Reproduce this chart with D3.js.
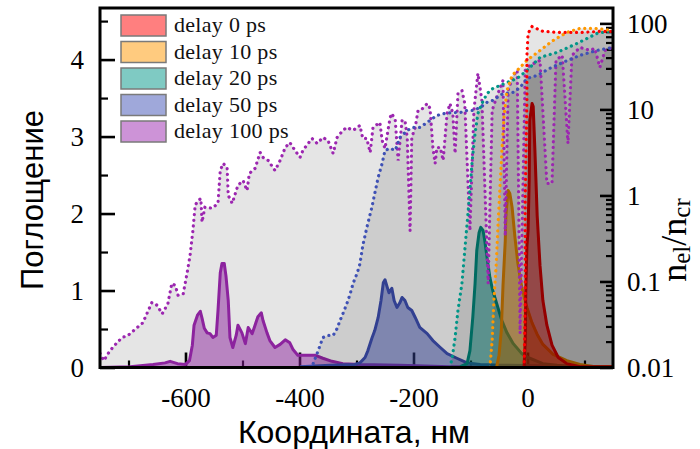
<!DOCTYPE html>
<html>
<head>
<meta charset="utf-8">
<script src="https://cdn.jsdelivr.net/npm/d3@7"></script>
<style>
  body { margin: 0; background: #fff; }
  svg { display: block; }
</style>
</head>
<body>
<div id="chart"></div>
<script>
// legend / series
var delays = ["delay 0 ps", "delay 10 ps", "delay 20 ps", "delay 50 ps", "delay 100 ps"];
var colors = ["#ff0000", "#ff9800", "#009688", "#3f51b5", "#9c27b0"];

// absorption profiles, [coordinate nm, absorption]
var absorb0 = [[-6,0.01],[-4,0.35],[-3,1.0],[-1,1.58],[1,1.78],[3,2.43],[4,3.21],[8,3.43],[10,3.39],[13,2.82],[17,1.97],[22,1.32],[27,0.87],[34,0.55],[43,0.29],[54,0.13],[69,0.05],[92,0.01],[150,0.01]];
var absorb10 = [[-54,0.01],[-50,0.16],[-46,0.48],[-43,1.06],[-39,1.65],[-38,1.97],[-34,2.30],[-31,2.26],[-27,2.08],[-22,1.69],[-17,1.36],[-10,1.04],[-1,0.78],[8,0.58],[17,0.43],[27,0.30],[45,0.17],[69,0.09],[92,0.04],[118,0.01],[150,0.01]];
var absorb20 = [[-118,0.01],[-106,0.05],[-101,0.22],[-96,0.65],[-92,1.09],[-89,1.52],[-85,1.75],[-82,1.82],[-78,1.78],[-75,1.65],[-71,1.43],[-66,1.17],[-61,1.00],[-54,0.83],[-45,0.61],[-36,0.45],[-25,0.31],[-10,0.18],[4,0.12],[27,0.05],[52,0.03],[92,0.01],[150,0.01]];
var absorb50 = [[-399,0.01],[-346,0.03],[-303,0.04],[-294,0.06],[-285,0.13],[-280,0.22],[-273,0.38],[-268,0.48],[-262,0.65],[-257,0.87],[-253,1.10],[-250,1.14],[-246,1.04],[-243,0.97],[-238,1.03],[-234,0.87],[-229,0.78],[-224,0.84],[-220,0.91],[-215,0.87],[-210,0.78],[-203,0.74],[-197,0.65],[-189,0.52],[-176,0.44],[-166,0.35],[-153,0.26],[-141,0.18],[-124,0.12],[-106,0.06],[-83,0.04],[-48,0.03],[150,0.01]];
var absorb100 = [[-750,0],[-697,0.01],[-657,0.04],[-636,0.06],[-627,0.08],[-614,0.05],[-600,0.04],[-593,0.09],[-588,0.29],[-585,0.55],[-579,0.68],[-574,0.73],[-571,0.64],[-567,0.51],[-562,0.45],[-557,0.44],[-552,0.39],[-546,0.42],[-543,0.74],[-539,1.23],[-536,1.35],[-532,1.35],[-529,1.19],[-525,0.87],[-522,0.39],[-517,0.26],[-511,0.42],[-508,0.55],[-501,0.45],[-495,0.31],[-490,0.52],[-483,0.44],[-478,0.55],[-473,0.66],[-467,0.71],[-464,0.61],[-457,0.45],[-452,0.35],[-443,0.26],[-434,0.30],[-425,0.36],[-417,0.32],[-411,0.23],[-403,0.16],[-390,0.16],[-373,0.16],[-359,0.12],[-343,0.08],[-324,0.05],[-294,0.04],[-224,0.03],[-136,0.01],[150,0.01]];

// electron density profiles, [coordinate nm, nel/ncr]
var density0 = [[-6,0.01],[-4,0.060],[-4,0.87],[-1,12.7],[-1,42.5],[1,76.5],[8,92],[27,80.7],[57,78.5],[92,78.5],[127,80.7],[150,80.7]];
var density10 = [[-66,0.01],[-62,0.0206],[-59,0.060],[-55,0.153],[-52,0.42],[-48,1.38],[-45,3.34],[-41,8.51],[-36,16.6],[-27,24.8],[-13,30.8],[-1,37.2],[22,48.5],[45,63.4],[69,78.5],[92,87.5],[118,87.5],[150,82.9]];
var density20 = [[-136,0.01],[-132,0.0131],[-127,0.0223],[-122,0.046],[-115,0.095],[-110,0.23],[-106,0.47],[-101,1.14],[-97,2.55],[-92,5.26],[-87,8.98],[-80,11.7],[-71,15.3],[-61,17.5],[-48,19.0],[-36,20.6],[-18,22.9],[-1,28.4],[22,40.3],[52,46],[87,58.5],[122,76.5],[150,82.9]];
var density50 = [[-376,0.0111],[-369,0.0146],[-364,0.018],[-359,0.0223],[-350,0.0236],[-341,0.0236],[-334,0.0284],[-329,0.035],[-324,0.042],[-317,0.055],[-311,0.072],[-306,0.095],[-299,0.124],[-294,0.16],[-289,0.26],[-282,0.42],[-273,0.73],[-268,1.05],[-262,1.62],[-255,2.36],[-250,3.34],[-241,3.52],[-232,3.34],[-224,4.72],[-211,5.70],[-201,6.18],[-189,6.18],[-176,7.06],[-159,8.51],[-145,8.98],[-131,9.2],[-118,9.2],[-106,9.73],[-96,9.73],[-83,10.5],[-71,12.1],[-61,12.7],[-43,15.3],[-25,15.8],[-13,18.0],[-1,22.9],[17,24.8],[39,30],[62,35.2],[92,42.5],[122,48.5],[150,52.6]];
var density100 = [[-750,0.0146],[-743,0.012],[-738,0.0138],[-732,0.0158],[-720,0.0195],[-711,0.0223],[-701,0.0236],[-685,0.029],[-675,0.033],[-659,0.057],[-650,0.053],[-641,0.042],[-631,0.055],[-624,0.095],[-618,0.090],[-613,0.069],[-604,0.072],[-597,0.127],[-592,0.20],[-587,0.39],[-583,0.77],[-578,0.87],[-573,0.92],[-571,0.49],[-566,0.73],[-553,0.71],[-543,0.81],[-539,1.95],[-534,2.36],[-527,2.12],[-525,1.0],[-518,0.81],[-508,1.31],[-499,1.49],[-492,1.14],[-488,1.80],[-478,2.06],[-469,3.16],[-464,2.77],[-455,2.55],[-443,1.95],[-434,2.55],[-425,3.61],[-417,4.13],[-408,3.34],[-399,2.77],[-394,3.34],[-378,4.60],[-369,4.02],[-359,4.72],[-350,4.36],[-341,3.08],[-334,4.72],[-324,5.70],[-317,6.18],[-306,5.70],[-294,6.52],[-289,4.60],[-282,4.60],[-276,3.16],[-271,6.18],[-259,7.06],[-255,4.36],[-250,3.52],[-241,8.07],[-238,8.98],[-232,7.45],[-227,2.55],[-220,7.45],[-215,7.45],[-211,4.72],[-206,0.39],[-203,4.72],[-197,6.18],[-192,9.73],[-183,10.3],[-176,11.7],[-171,10.3],[-166,3.61],[-162,2.36],[-159,3.61],[-153,3.61],[-148,2.55],[-141,8.98],[-136,11.7],[-131,8.98],[-127,3.08],[-122,15.3],[-115,16.6],[-110,11.7],[-101,0.39],[-94,9.73],[-87,26.2],[-80,12.7],[-69,0.095],[-62,9.73],[-53,14.6],[-43,21.7],[-39,0.34],[-34,16.6],[-25,24.8],[-18,28.4],[-13,0.025],[-4,28.4],[4,32.5],[22,37.2],[34,1.38],[43,1.38],[50,37.2],[61,42.5],[71,4.02],[78,42.5],[92,52.6],[110,48.5],[118,51.2],[127,30.8],[136,48.5],[150,52.6]];

// ticks
var xMajor = [-600, -400, -200, 0];
var xMinor = [-700, -500, -300, -100, 100];
var yMajor = [0, 1, 2, 3, 4];
var yMinor = [0.5, 1.5, 2.5, 3.5, 4.5];
var rMajor = [0.01, 0.1, 1, 10, 100];
var rLabels = ["0.01", "0.1", "1", "10", "100"];

var absorbs = [absorb0, absorb10, absorb20, absorb50, absorb100];
var densities = [density0, density10, density20, density50, density100];

var width = 700, height = 449;
var pLeft = 100, pRight = 613, pTop = 8, pBottom = 367.5;

var svg = d3.select("#chart").append("svg").attr("width", width).attr("height", height);

var x = d3.scaleLinear().domain([-750, 150]).range([pLeft, pRight]);
var yL = d3.scaleLinear().domain([0, 4.67]).range([pBottom, pTop]);
var yR = d3.scaleLog().domain([0.01, 151]).range([pBottom, pTop]);

svg.append("clipPath").attr("id", "plotclip").append("rect")
  .attr("x", pLeft).attr("y", pTop).attr("width", pRight - pLeft).attr("height", pBottom - pTop);

var serif = "'Liberation Serif', 'Times New Roman', serif";

function styleAxis(g, len) {
  g.select(".domain").remove();
  g.selectAll(".tick line").attr("stroke", "#000").attr("stroke-width", len > 10 ? 2.6 : 2.2);
  g.selectAll(".tick text").attr("font-family", serif).attr("font-size", 27).attr("fill", "#000");
}

// ticks first, the fills are drawn over them
var axL = svg.append("g").attr("transform", "translate(" + pLeft + ",0)")
  .call(d3.axisLeft(yL).tickValues(yMajor).tickSize(-15).tickPadding(16).tickFormat(function(d) { return String(d); }));
styleAxis(axL, 15);
var axLm = svg.append("g").attr("transform", "translate(" + pLeft + ",0)")
  .call(d3.axisLeft(yL).tickValues(yMinor).tickSize(-8).tickFormat(""));
styleAxis(axLm, 8);

var axB = svg.append("g").attr("transform", "translate(0," + pBottom + ")")
  .call(d3.axisBottom(x).tickValues(xMajor).tickSize(-15).tickPadding(20).tickFormat(function(d) { return String(d); }));
styleAxis(axB, 15);
var axBm = svg.append("g").attr("transform", "translate(0," + pBottom + ")")
  .call(d3.axisBottom(x).tickValues(xMinor).tickSize(-7).tickFormat(""));
styleAxis(axBm, 7);

var rMinor = yR.ticks().filter(function(v) { return rMajor.indexOf(v) < 0; });
var axR = svg.append("g").attr("transform", "translate(" + pRight + ",0)")
  .call(d3.axisRight(yR).tickValues(rMajor).tickSize(-13).tickPadding(14).tickFormat(function(d, i) { return rLabels[i]; }));
styleAxis(axR, 13);
var axRm = svg.append("g").attr("transform", "translate(" + pRight + ",0)")
  .call(d3.axisRight(yR).tickValues(rMinor).tickSize(-7).tickFormat(""));
styleAxis(axRm, 7);

var plot = svg.append("g").attr("clip-path", "url(#plotclip)");

// absorption: coloured fill + solid line
var absArea = d3.area().x(function(d) { return x(d[0]); }).y0(yL(0)).y1(function(d) { return yL(d[1]); });
var absLine = d3.line().x(function(d) { return x(d[0]); }).y(function(d) { return yL(d[1]); });
for (var i = 4; i >= 0; i--) {
  plot.append("path").attr("d", absArea(absorbs[i]))
    .attr("fill", colors[i]).attr("fill-opacity", 0.5);
  plot.append("path").attr("d", absLine(absorbs[i]))
    .attr("fill", "none").attr("stroke", colors[i]).attr("stroke-width", 3)
    .attr("stroke-linejoin", "round");
}

// density: grey shade under each profile
var denArea = d3.area().x(function(d) { return x(d[0]); }).y0(pBottom).y1(function(d) { return yR(d[1]); });
var denLine = d3.line().x(function(d) { return x(d[0]); }).y(function(d) { return yR(d[1]); });
for (var j = 4; j >= 0; j--) {
  plot.append("path").attr("d", denArea(densities[j]))
    .attr("fill", "#000").attr("fill-opacity", 0.1);
}
for (var k = 4; k >= 0; k--) {
  plot.append("path").attr("d", denLine(densities[k]))
    .attr("fill", "none").attr("stroke", colors[k]).attr("stroke-width", 3.2)
    .attr("stroke-linecap", "round").attr("stroke-dasharray", "0.1 5.6");
}

// frame
svg.append("rect").attr("x", pLeft).attr("y", pTop).attr("width", pRight - pLeft).attr("height", pBottom - pTop)
  .attr("fill", "none").attr("stroke", "#000").attr("stroke-width", 3);

// legend
var leg = svg.append("g");
delays.forEach(function(name, i) {
  leg.append("rect").attr("x", 121).attr("y", 15 + i * 26.5).attr("width", 45).attr("height", 21)
    .attr("fill", colors[i]).attr("fill-opacity", 0.5)
    .attr("stroke", "#7a7a7a").attr("stroke-width", 1.5);
  leg.append("text").attr("x", 174).attr("y", 15 + i * 26.5 + 17)
    .attr("font-family", serif).attr("font-size", 22).attr("letter-spacing", 0.3)
    .attr("fill", "#111").text(name);
});

// axis titles
var sans = "'Liberation Sans', Arial, sans-serif";
svg.append("text").attr("transform", "translate(43,200) rotate(-90)")
  .attr("text-anchor", "middle").attr("font-family", sans).attr("font-size", 31)
  .attr("fill", "#000").text("Поглощение");
svg.append("text").attr("x", 354).attr("y", 443)
  .attr("text-anchor", "middle").attr("font-family", sans).attr("font-size", 32)
  .attr("fill", "#000").text("Координата, нм");

var rt = svg.append("text").attr("transform", "translate(686,240) rotate(-90)")
  .attr("text-anchor", "middle").attr("font-family", serif).attr("font-size", 36).attr("fill", "#000");
rt.append("tspan").text("n");
rt.append("tspan").attr("font-size", 25).attr("dy", 4).text("el");
rt.append("tspan").attr("dy", -4).text("/n");
rt.append("tspan").attr("font-size", 25).attr("dy", 4).text("cr");
</script>
</body>
</html>
